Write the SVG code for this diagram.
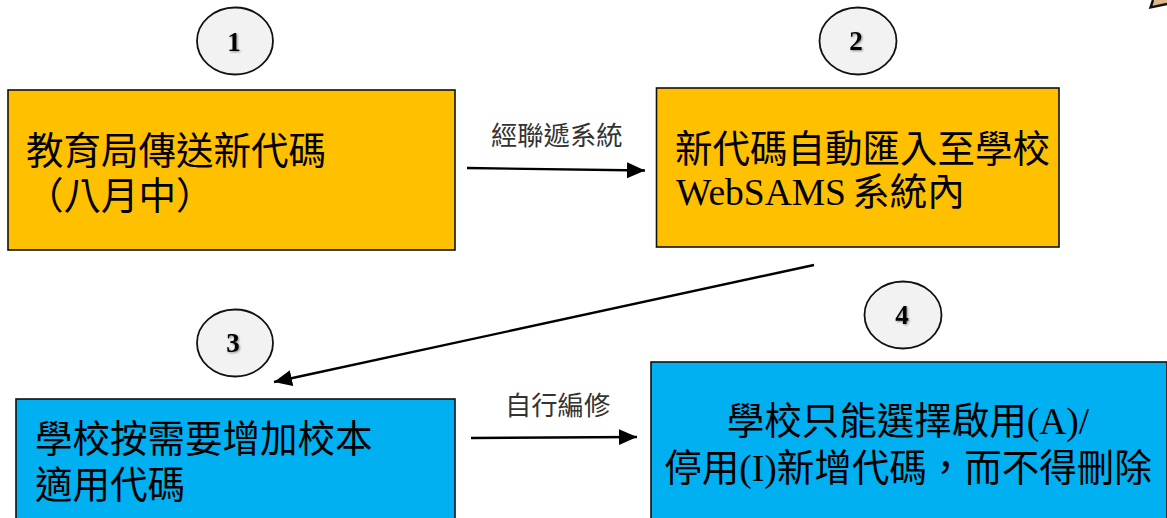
<svg xmlns="http://www.w3.org/2000/svg" width="1167" height="518" viewBox="0 0 1167 518">
<style>
text{font-family:"Liberation Serif","Noto Sans CJK TC",serif;fill:#000}
.big{font-size:37.5px}
.lab{font-size:26.3px;fill:#333}
.orange{fill:#ffc000;stroke:#111;stroke-width:1.6}
.blue{fill:#00b0f0;stroke:#111;stroke-width:1.6}
.badge{fill:#f2f2f2;stroke:#111;stroke-width:1.8}
.num{font-size:27px;font-weight:bold;text-anchor:middle;filter:drop-shadow(1.5px 1.5px 1px rgba(0,0,0,.45))}
.conn{stroke:#000;stroke-width:2.4;fill:none;marker-end:url(#arr)}
</style>
<defs>
<marker id="arr" markerUnits="userSpaceOnUse" markerWidth="20" markerHeight="18" refX="18" refY="8" orient="auto">
<path d="M0 0L18 8L0 16Z" fill="#000"/>
</marker>
</defs>
<rect width="1167" height="518" fill="#fff"/>
<path d="M1150 8L1152 0H1167V4Z" fill="#deb887"/>
<path d="M1153 0L1150.500 7.500L1167 4" fill="none" stroke="#111" stroke-width="2.400"/>
<g id="node1">
<rect class="orange" x="8" y="90" width="447" height="160"/>
<text class="big" x="26" y="164">教育局傳送新代碼</text>
<text class="big" x="26" y="209">（八月中）</text>
</g>
<g id="node2">
<rect class="orange" x="656.500" y="88" width="402.500" height="159"/>
<text class="big" x="675" y="162">新代碼自動匯入至學校</text>
<text class="big" x="676" y="205" word-spacing="-3">WebSAMS 系統內</text>
</g>
<g id="node3">
<rect class="blue" x="16" y="399" width="439" height="125"/>
<text class="big" x="35" y="452">學校按需要增加校本</text>
<text class="big" x="35" y="498">適用代碼</text>
</g>
<g id="node4">
<rect class="blue" x="651" y="362" width="516" height="162"/>
<text class="big" x="908" y="434" text-anchor="middle">學校只能選擇啟用(A)/</text>
<text class="big" x="908" y="481" text-anchor="middle">停用(I)新增代碼，而不得刪除</text>
</g>
<g id="badge1"><ellipse class="badge" cx="235" cy="41" rx="38" ry="33.500"/><text class="num" x="234" y="51">1</text></g>
<g id="badge2"><ellipse class="badge" cx="858" cy="41" rx="38.500" ry="33.500"/><text class="num" x="856" y="50">2</text></g>
<g id="badge3"><ellipse class="badge" cx="235" cy="343" rx="38" ry="33.500"/><text class="num" x="233" y="352">3</text></g>
<g id="badge4"><ellipse class="badge" cx="903" cy="315" rx="38.500" ry="33.500"/><text class="num" x="902" y="324">4</text></g>
<g id="connectors">
<path class="conn" d="M467 168L645 170.500"/>
<path class="conn" d="M814 265L274 382"/>
<path class="conn" d="M471 438L637 437"/>
</g>
<text class="lab" x="491" y="145">經聯遞系統</text>
<text class="lab" x="505" y="415">自行編修</text>
</svg>
